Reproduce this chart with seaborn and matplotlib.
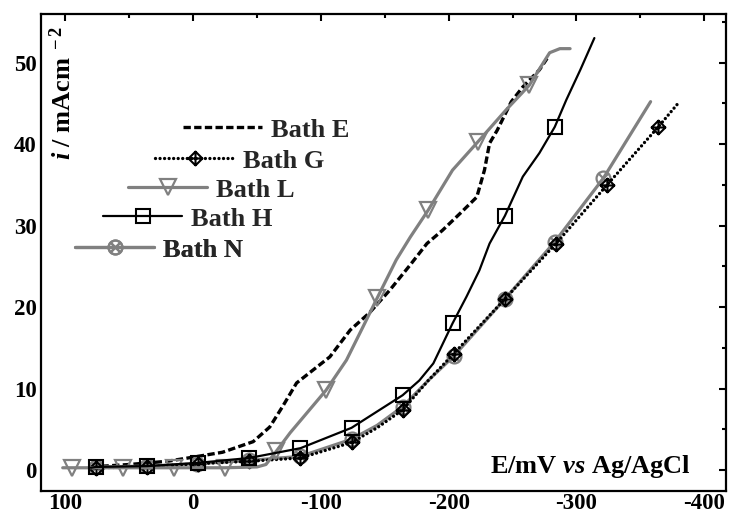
import numpy as np
import pandas as pd
import matplotlib
matplotlib.use("Agg")
import matplotlib.pyplot as plt
import seaborn as sns
from matplotlib.path import Path
from matplotlib.ticker import MultipleLocator

# ---------------- data (E / mV vs Ag/AgCl, i / mA cm^-2) ----------------
E_x = [80, 50, 20, 0, -23, -47, -60, -70, -81, -94, -107, -123, -138, -154, -170,
       -183, -195, -209, -222, -228, -232, -238, -249, -258, -271, -277]
E_y = [0.4, 0.7, 1.1, 1.6, 2.2, 3.5, 5.3, 7.8, 10.7, 12.3, 13.9, 17.2, 19.3, 22.1, 25.2,
       27.8, 29.4, 31.5, 33.5, 36.8, 40.1, 41.7, 45.2, 47.0, 49.1, 50.5]

G_x = [80, 76, 36, -4, -44, -84, -124, -144, -164, -184, -204, -244, -284, -324, -364, -379]
G_y = [0.3, 0.3, 0.4, 0.8, 1.1, 1.5, 3.4, 5.2, 7.4, 11.0, 14.3, 21.0, 27.8, 35.0, 42.1, 44.9]
G_mark = [76, 36, -4, -44, -84, -124, -164, -204, -244, -284, -324, -364]

L_x = [102, 95, 55, 15, -25, -50, -57, -65, -76, -90, -104, -120, -133, -144, -159,
       -170, -184, -203, -223, -245, -263, -279, -287, -295]
L_y = [0.3, 0.3, 0.3, 0.3, 0.3, 0.4, 0.7, 2.3, 4.6, 7.2, 9.8, 13.5, 17.6, 21.1, 25.8,
       28.6, 31.9, 36.8, 40.3, 44.2, 47.2, 51.2, 51.7, 51.7]
L_mark = [95, 55, 15, -25, -65, -104, -144, -184, -223, -263]

H_x = [80, 76, 36, -4, -44, -84, -124, -164, -177, -188, -203, -214, -224, -232, -244,
       -258, -271, -283, -292, -303, -314]
H_y = [0.3, 0.4, 0.5, 0.9, 1.5, 2.7, 5.2, 9.2, 11.0, 13.1, 18.0, 21.3, 24.5, 27.8, 31.2,
       36.0, 38.9, 42.1, 45.4, 49.1, 53.0]
H_mark = [76, 36, -4, -44, -84, -124, -164, -203, -244, -283]

N_x = [80, 76, 36, -3, -44, -84, -124, -144, -164, -184, -204, -244, -283, -321, -358]
N_y = [0.4, 0.4, 0.5, 0.8, 1.2, 1.7, 3.8, 5.5, 7.8, 11.0, 14.0, 21.0, 28.0, 35.8, 45.2]
N_mark = [76, 36, -3, -44, -84, -124, -164, -204, -244, -283, -321]

labels = ["Bath E", "Bath G", "Bath L", "Bath H", "Bath N"]

x_ticks = [100, 0, -100, -200, -300, -400]
y_ticks = [0, 10, 20, 30, 40, 50]

# ---------------- style ----------------
sns.set_theme(style="white")
plt.rcParams["font.family"] = ["Liberation Serif", "DejaVu Serif"]
plt.rcParams["font.weight"] = "bold"
plt.rcParams["axes.unicode_minus"] = False
plt.rcParams["mathtext.fontset"] = "custom"
plt.rcParams["mathtext.rm"] = "Liberation Serif:bold"
plt.rcParams["mathtext.it"] = "Liberation Serif:italic:bold"
plt.rcParams["mathtext.bf"] = "Liberation Serif:bold"

GRAY = "#808080"

diamond_plus = Path.make_compound_path(
    Path([(0, 1), (1, 0), (0, -1), (-1, 0), (0, 1)],
         [Path.MOVETO, Path.LINETO, Path.LINETO, Path.LINETO, Path.CLOSEPOLY]),
    Path([(0, 1), (0, -1)], [Path.MOVETO, Path.LINETO]),
    Path([(-1, 0), (1, 0)], [Path.MOVETO, Path.LINETO]),
)
r = 0.7071
circle_x = Path.make_compound_path(
    Path.unit_circle(),
    Path([(-r, -r), (r, r)], [Path.MOVETO, Path.LINETO]),
    Path([(-r, r), (r, -r)], [Path.MOVETO, Path.LINETO]),
)

fig = plt.figure(figsize=(7.3, 5.16), dpi=100)
ax = fig.add_axes([41 / 730, 25 / 516, 685 / 730, 477 / 516])


def idx(xs, marks):
    return [xs.index(v) for v in marks]


# Bath E
sns.lineplot(x=E_x, y=E_y, ax=ax, sort=False, estimator=None, color="black",
             lw=2.4, linestyle=(0, (2.2, 1.0)), label=labels[0], legend=False)
# Bath N (gray, circle-x)
sns.lineplot(x=N_x, y=N_y, ax=ax, sort=False, estimator=None, color=GRAY, lw=2.3,
             marker=circle_x, markersize=10, markerfacecolor="none",
             markeredgecolor=GRAY, markeredgewidth=1.6,
             markevery=idx(N_x, N_mark), label=labels[4], legend=False)
# Bath G (dotted, diamond)
sns.lineplot(x=G_x, y=G_y, ax=ax, sort=False, estimator=None, color="black", lw=2.4,
             linestyle=(0, (0.01, 1.35)), dash_capstyle="round",
             marker=diamond_plus, markersize=10, markerfacecolor="none",
             markeredgecolor="black", markeredgewidth=1.5,
             markevery=idx(G_x, G_mark), label=labels[1], legend=False)
# Bath L (gray, triangle down)
sns.lineplot(x=L_x, y=L_y, ax=ax, sort=False, estimator=None, color=GRAY, lw=2.3,
             marker="v", markersize=12, markerfacecolor="none",
             markeredgecolor=GRAY, markeredgewidth=1.6,
             markevery=idx(L_x, L_mark), label=labels[2], legend=False)
# Bath H (black, square)
sns.lineplot(x=H_x, y=H_y, ax=ax, sort=False, estimator=None, color="black", lw=1.6,
             marker="s", markersize=9.5, markerfacecolor="none",
             markeredgecolor="black", markeredgewidth=1.5,
             markevery=idx(H_x, H_mark), label=labels[3], legend=False)

lines = {ln.get_label(): ln for ln in ax.get_lines()}

# ---------------- axes ----------------
ax.set_xlim(119, -417)
ax.set_ylim(-2.55, 55.95)
ax.set_xticks(x_ticks)
ax.set_yticks(y_ticks)
ax.set_xticklabels([str(v) for v in x_ticks])
ax.xaxis.set_minor_locator(MultipleLocator(50))
ax.yaxis.set_minor_locator(MultipleLocator(5))
ax.tick_params(which="both", direction="in", top=True, right=True,
               color="black", width=1.5, labelcolor="black", labelsize=16.5, pad=3)
ax.tick_params(axis="x", pad=1.5)
ax.tick_params(which="major", length=5)
ax.tick_params(which="minor", length=3)
for lab in ax.get_xticklabels() + ax.get_yticklabels():
    lab.set_fontweight("bold")
for sp in ax.spines.values():
    sp.set_color("black")
    sp.set_linewidth(1.6)
ax.set_xlabel("")
ax.set_ylabel("")

ax.text(0.032, 0.834, r"$i$ / mAcm$^{\ -2}$", rotation=90, transform=ax.transAxes,
        ha="center", va="center", fontsize=19, fontweight="bold", color="black")
ax.text(0.949, 0.052, r"E/mV $vs$ Ag/AgCl", transform=ax.transAxes,
        ha="right", va="center", fontsize=19, fontweight="bold", color="black")

# ---------------- staggered legend ----------------
leg_pos = {"Bath E": (183, 130), "Bath G": (155, 161), "Bath L": (128, 190),
           "Bath H": (103, 219), "Bath N": (75, 250)}
for lab in labels:
    lx, ly = leg_pos[lab]
    lg = ax.legend([lines[lab]], [lab], loc="center left",
                   bbox_to_anchor=(lx / 730, 1 - ly / 516),
                   bbox_transform=fig.transFigure, frameon=False,
                   borderpad=0, borderaxespad=0, handlelength=3.0,
                   handletextpad=0.35, numpoints=1,
                   prop={"size": 19, "weight": "bold", "family": "Liberation Serif"})
    ax.add_artist(lg)

fig.savefig("out.png", dpi=100)
